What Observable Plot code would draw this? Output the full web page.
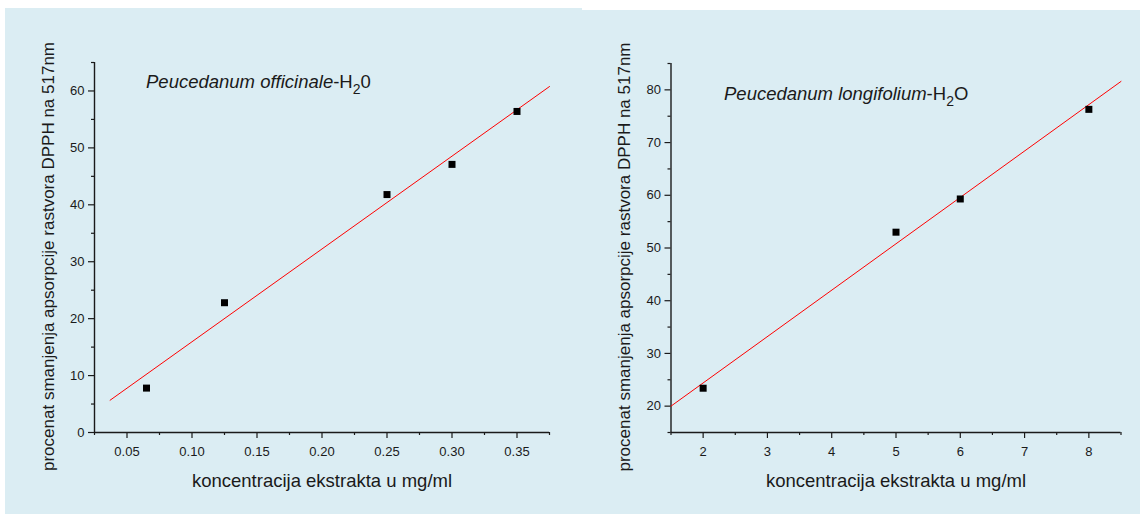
<!DOCTYPE html>
<html>
<head>
<meta charset="utf-8">
<script src="https://cdn.jsdelivr.net/npm/d3@7"></script>
<script src="https://cdn.jsdelivr.net/npm/@observablehq/plot@0.6"></script>
<style>
  html, body { margin: 0; padding: 0; background: #ffffff; }
  #page { position: relative; width: 1140px; height: 514px; overflow: hidden; }
  .panel { position: absolute; }
  .panel svg { display: block; }
</style>
</head>
<body>
<div id="page">
  <div class="panel" id="officinale" style="left:5px; top:8px; width:577px; height:506px;"></div>
  <div class="panel" id="longifolium" style="left:582px; top:10px; width:558px; height:504px;"></div>
</div>
<script>
// DPPH radical scavenging of water extracts: % decrease of absorbance at 517 nm

// Peucedanum officinale, water extract
const officinaleConc = [0.065, 0.125, 0.25, 0.30, 0.35];
const officinaleInhibition = [7.8, 22.8, 41.8, 47.1, 56.4];

// Peucedanum longifolium, water extract
const longifoliumConc = [2, 5, 6, 8];
const longifoliumInhibition = [23.4, 53.0, 59.3, 76.3];

// Axis ranges, tick values and the x-span of each fitted line
const officinaleXDomain = [0.025, 0.375];
const officinaleYDomain = [0, 65];
const officinaleXTicks = [0.05, 0.10, 0.15, 0.20, 0.25, 0.30, 0.35];
const officinaleXMinor = [0.025, 0.075, 0.125, 0.175, 0.225, 0.275, 0.325, 0.375];
const officinaleYTicks = [0, 10, 20, 30, 40, 50, 60];
const officinaleYMinor = [5, 15, 25, 35, 45, 55, 65];
const officinaleFitSpan = [0.037, 0.375];

const longifoliumXDomain = [1.5, 8.5];
const longifoliumYDomain = [15, 85];
const longifoliumXTicks = [2, 3, 4, 5, 6, 7, 8];
const longifoliumXMinor = [1.5, 2.5, 3.5, 4.5, 5.5, 6.5, 7.5, 8.5];
const longifoliumYTicks = [20, 30, 40, 50, 60, 70, 80];
const longifoliumYMinor = [15, 25, 35, 45, 55, 65, 75, 85];
const longifoliumFitSpan = [1.5, 8.5];

const xLabel = "koncentracija ekstrakta u mg/ml";
const yLabel = "procenat smanjenja apsorpcije rastvora DPPH na 517nm";

const BG = "#dbedf3";
const INK = "#1a1a1a";
const FONT = "'Liberation Sans', Arial, Helvetica, sans-serif";

// ordinary least-squares line through the measured points
function leastSquares(xs, ys) {
  const mx = d3.mean(xs), my = d3.mean(ys);
  const sxy = d3.sum(xs, (x, i) => (x - mx) * (ys[i] - my));
  const sxx = d3.sum(xs, x => (x - mx) ** 2);
  const slope = sxy / sxx;
  return {slope, intercept: my - slope * mx};
}

function drawPanel(el, cfg) {
  const points = cfg.conc.map((c, i) => ({c, v: cfg.inhibition[i]}));
  const {slope, intercept} = leastSquares(cfg.conc, cfg.inhibition);
  const fitLine = cfg.fitSpan.map(c => ({c, v: intercept + slope * c}));

  const svg = Plot.plot({
    width: cfg.width,
    height: cfg.height,
    marginLeft: cfg.marginLeft,
    marginRight: cfg.marginRight,
    marginTop: cfg.marginTop,
    marginBottom: cfg.marginBottom,
    style: {background: BG, color: INK, fontFamily: FONT, fontSize: "13px", overflow: "visible"},
    x: {domain: cfg.xDomain},
    y: {domain: cfg.yDomain},
    marks: [
      Plot.axisX(cfg.xTicks, {tickSize: 6, tickPadding: 8, tickFormat: cfg.xFormat, fontSize: 13, strokeWidth: 1.2, label: null}),
      Plot.axisX(cfg.xMinor, {tickSize: 3, tickFormat: () => "", strokeWidth: 1.2, label: null}),
      Plot.axisY(cfg.yTicks, {tickSize: 6, tickPadding: 4, tickFormat: d3.format("d"), fontSize: 13, strokeWidth: 1.2, label: null}),
      Plot.axisY(cfg.yMinor, {tickSize: 3, tickFormat: () => "", strokeWidth: 1.2, label: null}),
      Plot.ruleY([cfg.yDomain[0]], {stroke: INK, strokeWidth: 1.4}),
      Plot.ruleX([cfg.xDomain[0]], {stroke: INK, strokeWidth: 1.4}),
      Plot.line(fitLine, {x: "c", y: "v", stroke: "#ff0000", strokeWidth: 1}),
      Plot.dot(points, {x: "c", y: "v", symbol: "square", r: 3.95, fill: "#000000", stroke: "none"}),
      Plot.text([xLabel], {text: d => d, frameAnchor: "bottom", textAnchor: "middle", lineAnchor: "top", dy: 41, fontSize: 18.5, fill: INK}),
      Plot.text([yLabel], {text: d => d, frameAnchor: "left", textAnchor: "middle", lineAnchor: "middle", rotate: -90, dx: -46, dy: 9, fontSize: 17, fill: INK})
    ]
  });

  // species name in italics, followed by the solvent with a subscript
  const title = d3.select(svg).append("text")
    .attr("x", cfg.titleX)
    .attr("y", cfg.titleY)
    .attr("text-anchor", "start")
    .attr("font-size", 18.5)
    .attr("font-family", FONT)
    .attr("fill", INK);
  title.append("tspan").attr("font-style", "italic").text(cfg.species);
  title.append("tspan").text("-H");
  title.append("tspan").attr("font-size", 14).attr("dy", 6.5).text("2");
  title.append("tspan").attr("dy", -6.5).text(cfg.solventTail);

  el.appendChild(svg);
}

drawPanel(document.getElementById("officinale"), {
  conc: officinaleConc,
  inhibition: officinaleInhibition,
  xDomain: officinaleXDomain,
  yDomain: officinaleYDomain,
  xTicks: officinaleXTicks,
  xMinor: officinaleXMinor,
  yTicks: officinaleYTicks,
  yMinor: officinaleYMinor,
  fitSpan: officinaleFitSpan,
  xFormat: d3.format(".2f"),
  width: 577, height: 506,
  marginLeft: 89, marginRight: 33, marginTop: 54, marginBottom: 82,
  species: "Peucedanum officinale",
  solventTail: "0",
  titleX: 141, titleY: 79.5
});

drawPanel(document.getElementById("longifolium"), {
  conc: longifoliumConc,
  inhibition: longifoliumInhibition,
  xDomain: longifoliumXDomain,
  yDomain: longifoliumYDomain,
  xTicks: longifoliumXTicks,
  xMinor: longifoliumXMinor,
  yTicks: longifoliumYTicks,
  yMinor: longifoliumYMinor,
  fitSpan: longifoliumFitSpan,
  xFormat: d3.format("d"),
  width: 558, height: 504,
  marginLeft: 88.5, marginRight: 19.5, marginTop: 53, marginBottom: 82,
  species: "Peucedanum longifolium",
  solventTail: "O",
  titleX: 142, titleY: 89.5
});
</script>
</body>
</html>
